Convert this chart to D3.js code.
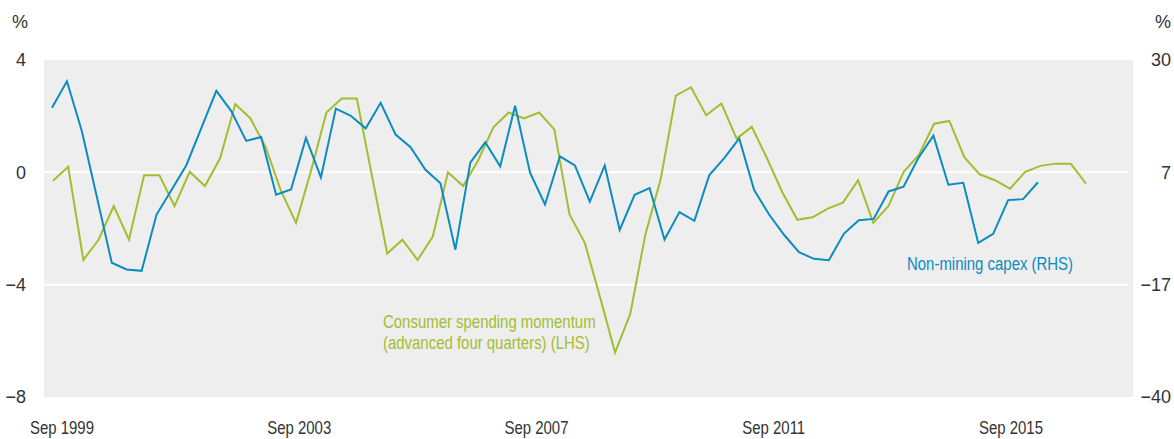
<!DOCTYPE html>
<html lang="en">
<head>
  <meta charset="UTF-8" />
  <title>Consumer spending momentum and non-mining capex</title>
  <script src="https://d3js.org/d3.v7.min.js"></script>
  <style>
    body {
      margin: 0;
      background: #fff;
    }
    text {
      font-family: "Liberation Sans", Arial, sans-serif;
      font-size: 18px;
      fill: #333;
    }
  </style>
</head>
<body>
  <div id="chart"></div>

  <script>
    // quarterly, Sep 1999 onwards
    const capex = [20.1, 25.6, 15.2, 1.6, -12.1, -13.5, -13.8, -2.1, 3.0, 8.2, 15.9, 23.6, 19.4, 13.2, 14.0,
      2.0, 3.1, 13.8, 5.6, 19.9, 18.4, 15.8, 21.1, 14.5, 11.9, 7.2, 4.4, -9.4, 8.7, 12.9,
      7.9, 20.5, 6.6, 0.0, 10.0, 8.1, 0.6, 8.1, -5.3, 2.0, 3.4, -7.3, -1.6, -3.4,
      6.1, 9.6, 13.7, 3.0, -2.1, -6.3, -9.9, -11.3, -11.6, -6.1, -3.3, -3.0, 2.7, 3.7, 9.7,
      14.3, 4.1, 4.5, -8.0, -6.1, 0.9, 1.1, 4.6];

    const spending = [-0.30, 0.20, -3.12, -2.40, -1.20, -2.40, -0.10, -0.10, -1.20, 0.02, -0.49, 0.50, 2.43, 1.92,
      0.90, -0.65, -1.80, 0.08, 2.13, 2.63, 2.63, -0.13, -2.89, -2.40, -3.12, -2.29, 0.00, -0.49, 0.44,
      1.61, 2.13, 1.92, 2.13, 1.53, -1.50, -2.50, -4.42, -6.42, -5.04, -2.20, -0.25, 2.73, 3.03,
      2.03, 2.45, 1.20, 1.62, 0.50, -0.70, -1.69, -1.60, -1.29, -1.08, -0.28, -1.80, -1.20, 0.02, 0.62,
      1.73, 1.83, 0.53, -0.07, -0.28, -0.58, 0.02, 0.23, 0.31, 0.31, -0.40];

    const xLabels = ["Sep 1999", "Sep 2003", "Sep 2007", "Sep 2011", "Sep 2015"];
    const lhsTicks = [4, 0, -4, -8];

    const width = 1174, height = 439;
    const margin = { top: 60, right: 41, bottom: 42, left: 44 };
    const innerW = width - margin.left - margin.right;
    const innerH = height - margin.top - margin.bottom;

    const blue = "#0b8cc0", green = "#a3bd31";

    const svg = d3.select("#chart").append("svg")
      .attr("width", width)
      .attr("height", height);

    const yL = d3.scaleLinear().domain([-8, 4]).range([margin.top + innerH, margin.top]);
    const yR = d3.scaleLinear().domain([-40, 30]).range(yL.range());

    // the two series sit on slightly different horizontal spacing in the original
    const xCapex = d3.scaleLinear().domain([0, capex.length - 1])
      .range([margin.left + 8, margin.left + 994]);
    const xSpend = d3.scaleLinear().domain([0, spending.length - 1])
      .range([margin.left + 9, margin.left + 1042]);
    const xAxis = d3.scaleLinear().domain([0, (xLabels.length - 1) * 16])
      .range([margin.left + 18, margin.left + 967]);

    svg.append("rect")
      .attr("x", margin.left).attr("y", margin.top)
      .attr("width", innerW).attr("height", innerH)
      .attr("fill", "#eeeeee");

    svg.append("g")
      .selectAll("line")
      .data([0, -4])
      .join("line")
      .attr("x1", margin.left)
      .attr("x2", margin.left + innerW - 5)
      .attr("y1", d => yL(d))
      .attr("y2", d => yL(d))
      .attr("stroke", "#fff")
      .attr("stroke-width", 2);

    const fmt = v => {
      const r = Math.round(v);
      return r < 0 ? "\u2212" + Math.abs(r) : String(r);
    };

    // left axis
    svg.append("g")
      .selectAll("text")
      .data(lhsTicks)
      .join("text")
      .attr("x", 26)
      .attr("y", d => yL(d))
      .attr("dy", "0.35em")
      .attr("text-anchor", "end")
      .text(fmt);

    // right axis, same gridlines read in RHS units
    svg.append("g")
      .selectAll("text")
      .data(lhsTicks.map(v => yR.invert(yL(v))))
      .join("text")
      .attr("x", 1171)
      .attr("y", d => yR(d))
      .attr("dy", "0.35em")
      .attr("text-anchor", "end")
      .text(fmt);

    svg.append("text").attr("x", 12).attr("y", 28).text("%");
    svg.append("text").attr("x", 1171).attr("y", 28).attr("text-anchor", "end").text("%");

    // x labels
    const xText = svg.append("g")
      .selectAll("text")
      .data(xLabels)
      .join("text")
      .attr("x", (d, i) => xAxis(i * 16))
      .attr("y", 434)
      .attr("text-anchor", "middle")
      .text(d => d);

    const lineCapex = d3.line()
      .x((d, i) => xCapex(i))
      .y(d => yR(d));

    const lineSpend = d3.line()
      .x((d, i) => xSpend(i))
      .y(d => yL(d));

    svg.append("path")
      .datum(spending)
      .attr("fill", "none")
      .attr("stroke", green)
      .attr("stroke-width", 2)
      .attr("d", lineSpend);

    svg.append("path")
      .datum(capex)
      .attr("fill", "none")
      .attr("stroke", blue)
      .attr("stroke-width", 2)
      .attr("d", lineCapex);

    // series labels
    const spendLabel = svg.append("text")
      .attr("x", 383)
      .attr("y", 328)
      .style("fill", green);
    spendLabel.append("tspan").attr("x", 383).text("Consumer spending momentum");
    spendLabel.append("tspan").attr("x", 383).attr("dy", 21).text("(advanced four quarters) (LHS)");

    const capexLabel = svg.append("text")
      .attr("x", 907)
      .attr("y", 270)
      .style("fill", blue)
      .text("Non-mining capex (RHS)");

    // the original uses a condensed face; squeeze the regular one to match
    const squeeze = nodes => nodes.forEach(t => {
      const w = t.getComputedTextLength();
      d3.select(t)
        .attr("textLength", w * 0.83)
        .attr("lengthAdjust", "spacingAndGlyphs");
    });
    squeeze(xText.nodes());
    squeeze(spendLabel.selectAll("tspan").nodes());
    squeeze([capexLabel.node()]);
  </script>
</body>
</html>
